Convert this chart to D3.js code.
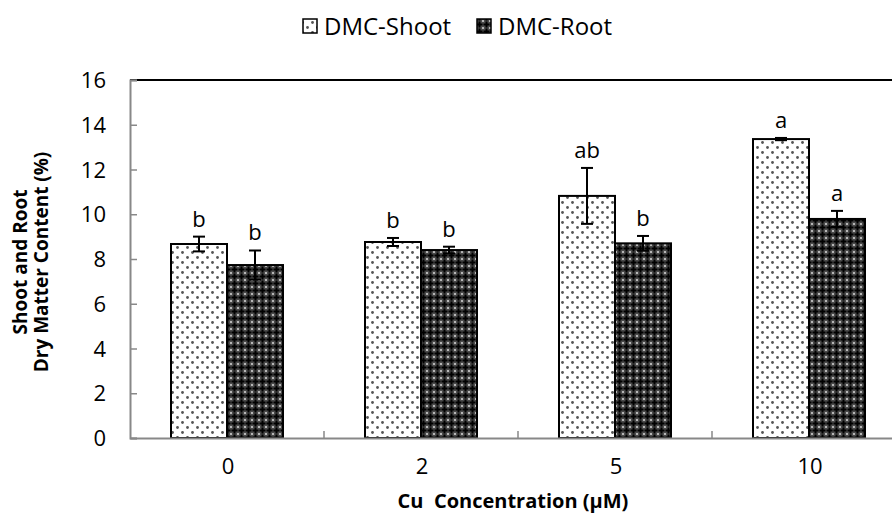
<!DOCTYPE html>
<html>
<head>
<meta charset="utf-8">
<script src="https://cdn.jsdelivr.net/npm/d3@7"></script>
<style>
  body { margin: 0; background: #fff; }
  text { font-family: "Open Sans", sans-serif; fill: #000; }
</style>
</head>
<body>
<svg id="chart" width="892" height="527"></svg>
<script>
// data
var concs = ["0", "2", "5", "10"];
var series = ["DMC-Shoot", "DMC-Root"];
var shoot = [8.67, 8.76, 10.82, 13.36];
var shootErr = [0.33, 0.18, 1.25, 0.05];
var root = [7.73, 8.4, 8.7, 9.79];
var rootErr = [0.65, 0.15, 0.33, 0.36];
var shootLetters = ["b", "b", "ab", "a"];
var rootLetters = ["b", "b", "b", "a"];
var yTicks = [0, 2, 4, 6, 8, 10, 12, 14, 16];

var svg = d3.select("#chart");
var pLeft = 130, pTop = 80, pBottom = 438, pRight = 906;

// patterns
var defs = svg.append("defs");
var p1 = defs.append("pattern")
  .attr("id", "dots")
  .attr("patternUnits", "userSpaceOnUse")
  .attr("width", 10).attr("height", 10);
p1.append("rect").attr("width", 10).attr("height", 10).attr("fill", "#fff");
p1.append("circle").attr("cx", 2.5).attr("cy", 2.5).attr("r", 1.4).attr("fill", "#555");
p1.append("circle").attr("cx", 7.5).attr("cy", 7.5).attr("r", 1.4).attr("fill", "#555");

var p2 = defs.append("pattern")
  .attr("id", "dark")
  .attr("patternUnits", "userSpaceOnUse")
  .attr("width", 7).attr("height", 7);
p2.append("rect").attr("width", 7).attr("height", 7).attr("fill", "#4a4a4a");
p2.append("rect").attr("x", 2.5).attr("y", 0.5).attr("width", 2).attr("height", 6).attr("fill", "#000");
p2.append("rect").attr("x", 0.5).attr("y", 2.5).attr("width", 6).attr("height", 2).attr("fill", "#000");
[[0, 0], [7, 0], [0, 7], [7, 7]].forEach(function(c){
  p2.append("circle").attr("cx", c[0]).attr("cy", c[1]).attr("r", 1.1).attr("fill", "#d0d0d0");
});

var fills = ["url(#dots)", "url(#dark)"];

var x = d3.scaleBand().domain(concs).range([pLeft, pRight]);
var xs = d3.scaleBand().domain(series).range([0, 112]);
var y = d3.scaleLinear().domain([0, 16]).range([pBottom, pTop]);

// top border
svg.append("line")
  .attr("x1", pLeft).attr("y1", pTop).attr("x2", pRight).attr("y2", pTop)
  .attr("stroke", "#000").attr("stroke-width", 2);

// bars
var vals = [shoot, root];
var errs = [shootErr, rootErr];
var letters = [shootLetters, rootLetters];
for (var s = 0; s < 2; s++) {
  for (var i = 0; i < concs.length; i++) {
    var bx = x(concs[i]) + x.bandwidth() / 2 - 56 + xs(series[s]);
    var bw = xs.bandwidth();
    svg.append("rect")
      .attr("x", bx).attr("y", y(vals[s][i]))
      .attr("width", bw).attr("height", y(0) - y(vals[s][i]))
      .attr("fill", fills[s])
      .attr("stroke", "#000").attr("stroke-width", 2);
  }
}
// error bars and letters
for (var s = 0; s < 2; s++) {
  for (var i = 0; i < concs.length; i++) {
    var cx = x(concs[i]) + x.bandwidth() / 2 - 56 + xs(series[s]) + xs.bandwidth() / 2;
    var hi = y(vals[s][i] + errs[s][i]);
    var lo = y(vals[s][i] - errs[s][i]);
    var g = svg.append("g").attr("stroke", "#000").attr("stroke-width", 2);
    g.append("line").attr("x1", cx).attr("x2", cx).attr("y1", hi).attr("y2", lo);
    g.append("line").attr("x1", cx - 6).attr("x2", cx + 6).attr("y1", hi).attr("y2", hi);
    g.append("line").attr("x1", cx - 6).attr("x2", cx + 6).attr("y1", lo).attr("y2", lo);
    svg.append("text")
      .attr("x", cx).attr("y", hi - 10)
      .attr("text-anchor", "middle")
      .attr("font-size", 22)
      .text(letters[s][i]);
  }
}

// y axis
var yAxis = svg.append("g")
  .attr("transform", "translate(" + pLeft + ",0)")
  .call(d3.axisRight(y).tickValues(yTicks).tickSize(7).tickFormat(""));
yAxis.select(".domain").attr("stroke", "#888").attr("stroke-width", 2);
yAxis.selectAll(".tick line").attr("stroke", "#888").attr("stroke-width", 1.5);
svg.selectAll(".ylab").data(yTicks).enter().append("text")
  .attr("class", "ylab")
  .attr("x", 106).attr("y", function(d){ return y(d) + 8; })
  .attr("text-anchor", "end")
  .attr("font-size", 22)
  .text(function(d){ return d; });

// x axis
var xAxis = svg.append("g")
  .attr("transform", "translate(0," + pBottom + ")")
  .call(d3.axisTop(x).tickSize(0).tickFormat(""));
xAxis.select(".domain").attr("stroke", "#888").attr("stroke-width", 2);
xAxis.selectAll(".tick").remove();
for (var i = 1; i < concs.length; i++) {
  svg.append("line")
    .attr("x1", x(concs[i])).attr("x2", x(concs[i]))
    .attr("y1", pBottom - 7).attr("y2", pBottom)
    .attr("stroke", "#888").attr("stroke-width", 1.5);
}
svg.selectAll(".xlab").data(concs).enter().append("text")
  .attr("class", "xlab")
  .attr("x", function(d){ return x(d) + x.bandwidth() / 2 + 1; })
  .attr("y", 474)
  .attr("text-anchor", "middle")
  .attr("font-size", 22)
  .text(function(d){ return d; });

// axis titles
svg.append("text")
  .attr("x", 513).attr("y", 508)
  .attr("text-anchor", "middle")
  .attr("font-size", 20).attr("font-weight", "bold")
  .attr("xml:space", "preserve")
  .text("Cu  Concentration (µM)");
var yt = svg.append("text")
  .attr("transform", "translate(27,262) rotate(-90)")
  .attr("text-anchor", "middle")
  .attr("font-size", 19).attr("font-weight", "bold");
yt.append("tspan").attr("x", 0).attr("y", 0).text("Shoot and Root");
yt.append("tspan").attr("x", 0).attr("y", 21).text("Dry Matter Content (%)");

// legend
var legX = [303, 477];
for (var s = 0; s < 2; s++) {
  svg.append("rect")
    .attr("x", legX[s]).attr("y", 19).attr("width", 14).attr("height", 14)
    .attr("fill", fills[s]).attr("stroke", "#000").attr("stroke-width", 1.5);
  svg.append("text")
    .attr("x", legX[s] + 21).attr("y", 35)
    .attr("font-size", 24)
    .text(series[s]);
}
</script>
</body>
</html>
